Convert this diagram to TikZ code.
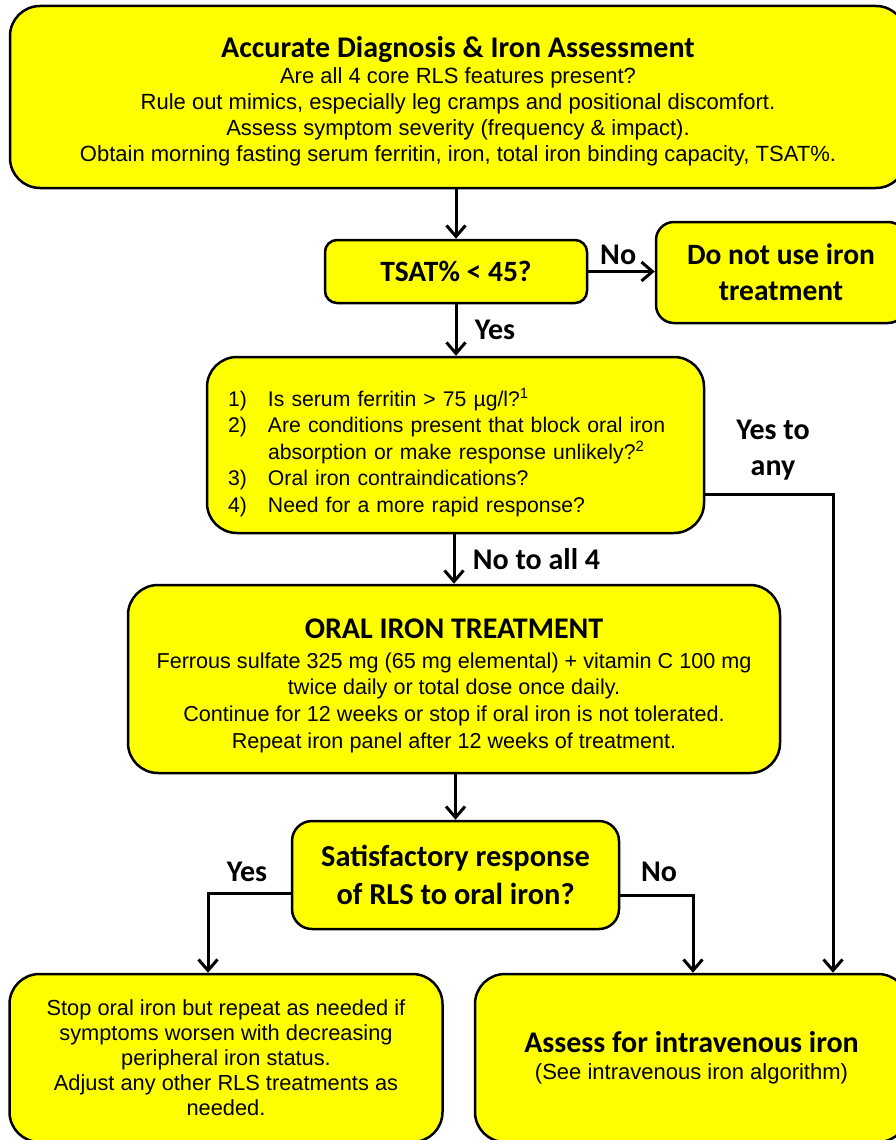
\documentclass[tikz,border=0pt]{standalone}
\usepackage{fontspec}
\setmainfont{Liberation Sans}
\newfontfamily\boldfont{Carlito}
\usetikzlibrary{arrows.meta}

\definecolor{boxyellow}{RGB}{255,255,0}
\newcommand{\body}{\fontsize{22}{26}\selectfont}
\newcommand{\hdfont}{\boldfont\bfseries\fontsize{29.5}{36}\selectfont}
\newcommand{\hd}[1]{{\boldfont\bfseries\fontsize{30}{30}\selectfont #1}}
\newcommand{\num}[1]{\makebox[40pt][l]{#1}}
\newcommand{\topstrut}[1]{\rule{0pt}{#1}}

\tikzset{
  box/.style={draw, fill=boxyellow, line width=2.5pt, rounded corners=30pt, align=center, inner sep=0pt},
  ans/.style={font=\boldfont\bfseries\fontsize{30}{36}\selectfont, align=center},
  flow/.style={->, line width=3pt},
  >={Straight Barb[length=11pt,width=19pt,line width=3pt]}
}

\begin{document}
\begin{tikzpicture}[x=1pt, y=-1pt]

  \clip (0,0) rectangle (896,1140);

  \node[box, minimum width=896pt, minimum height=182pt, font=\body] (diag) at (458,97)
    {\topstrut{29pt}\hd{Accurate Diagnosis \& Iron Assessment}\\
     Are all 4 core RLS features present?\\
     Rule out mimics, especially leg cramps and positional discomfort.\\
     Assess symptom severity (frequency \& impact).\\
     Obtain morning fasting serum ferritin, iron, total iron binding capacity, TSAT\%.};

  \node[box, rounded corners=12pt, minimum width=262pt, minimum height=63pt, font=\hdfont] (tsat) at (456,271.5)
    {TSAT\% < 45?};
  \node[box, rounded corners=18pt, minimum width=250pt, minimum height=101pt, font=\hdfont] (noiron) at (781,272.5)
    {Do not use iron\\ treatment};

  \node[box, minimum width=497pt, minimum height=176pt, text width=455pt, align=left, font=\fontsize{21.2}{26.5}\selectfont] (quest) at (455.5,445)
    {\topstrut{33pt}\num{1)}Is serum ferritin > 75 µg/l?\textsuperscript{1}\\
     \num{2)}Are conditions present that block oral iron\\
     \hspace*{40pt}absorption or make response unlikely?\textsuperscript{2}\\
     \num{3)}Oral iron contraindications?\\
     \num{4)}Need for a more rapid response?};

  \node[box, minimum width=652pt, minimum height=188pt, font=\fontsize{21.6}{26.7}\selectfont] (oral) at (454,679)
    {\topstrut{33pt}\hd{ORAL IRON TREATMENT}\\[3pt]
     Ferrous sulfate 325 mg (65 mg elemental) + vitamin C 100 mg\\
     twice daily or total dose once daily.\\
     Continue for 12 weeks or stop if oral iron is not tolerated.\\
     Repeat iron panel after 12 weeks of treatment.};

  \node[box, rounded corners=20pt, minimum width=327pt, minimum height=108pt, font=\boldfont\bfseries\fontsize{30.4}{38}\selectfont] (satis) at (455.5,875)
    {Satisfactory response\\ of RLS to oral iron?};

  \node[box, minimum width=433pt, minimum height=168pt, font=\fontsize{21.8}{25}\selectfont] (stop) at (226,1058)
    {Stop oral iron but repeat as needed if\\
     symptoms worsen with decreasing\\
     peripheral iron status.\\
     Adjust any other RLS treatments as\\
     needed.};

  \node[box, minimum width=433pt, minimum height=168pt, font=\fontsize{22}{27}\selectfont] (assess) at (691.5,1058)
    {\hd{Assess for intravenous iron}\\
     (See intravenous iron algorithm)};

  \coordinate (yesturn) at (833,494);
  \coordinate (satyes) at (208,893);
  \coordinate (satno) at (693,895);

  \draw[flow] (diag.south -| tsat.north) -- (tsat.north);
  \draw[flow] (tsat.east) -- node[ans, above, pos=0.45, yshift=2pt]{No} (tsat.east -| noiron.west);
  \draw[flow] (tsat.south) -- node[ans, right, xshift=14pt]{Yes} (tsat.south |- quest.north);
  \draw[flow] (quest.south -| oral.north) -- node[ans, right, xshift=14pt]{No to all 4} (oral.north);
  \draw[flow] (quest.east |- yesturn) -- (yesturn) -- (yesturn |- assess.north);
  \node[ans] (yesany) at (773,450) {Yes to\\ any};
  \draw[flow] (oral.south -| satis.north) -- (satis.north);
  \draw[flow] (satis.west |- satyes) -- (satyes) -- (satyes |- stop.north);
  \draw[flow] (satis.east |- satno) -- (satno) -- (satno |- assess.north);
  \node[ans] (lblyes) at (247,872) {Yes};
  \node[ans] (lblno) at (659,872) {No};

\end{tikzpicture}
\end{document}
